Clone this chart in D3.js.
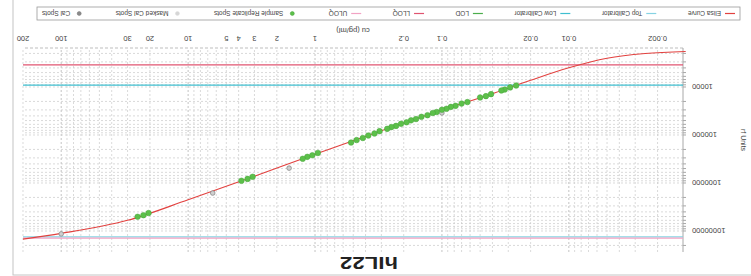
<!DOCTYPE html>
<html>
<head>
<meta charset="utf-8">
<script src="https://cdn.jsdelivr.net/npm/d3@7"></script>
<style>
  body { margin: 0; background: #fff; }
  text { font-family: "Liberation Sans", Arial, sans-serif; fill: #444; }
</style>
</head>
<body>
<div id="chart"></div>
<script>
// data
var chartTitle = "hIL22";
var xTitle = "cu (pg/ml)";
var yTitle = "rf Units";

var xTickLabels = [0.002, 0.01, 0.02, 0.1, 0.2, 1, 2, 3, 4, 5, 10, 20, 30, 100, 200];
var yTickLabels = [10000, 100000, 1000000, 10000000];

// fitted elisa curve
var curveConc   = [0.0012, 0.0025, 0.005, 0.01, 0.02, 0.04, 0.1, 0.3, 1, 3, 10, 30, 100, 200];
var curveSignal = [1820, 2000, 2510, 3980, 7240, 13800, 30200, 81300, 251000, 724000, 2240000, 6000000, 11200000, 14800000];

// sample replicate spots
var sampleConc = [0.026, 0.029, 0.032, 0.034, 0.041, 0.045, 0.05, 0.063, 0.07, 0.078, 0.085, 0.092, 0.1, 0.11, 0.118,
                  0.13, 0.145, 0.16, 0.175, 0.19, 0.21, 0.23, 0.25, 0.27, 0.31, 0.34, 0.38, 0.42, 0.47, 0.52,
                  0.95, 1.05, 1.15, 1.25, 3.1, 3.4, 3.8, 20.5, 22.5, 25];
var sampleSignal = [9300, 10200, 11300, 11800, 14100, 15500, 16500, 20600, 22100, 24700, 26000, 28400, 29800, 33200, 34800,
                    38700, 41800, 46500, 49500, 54400, 58300, 64600, 68400, 74500, 83200, 93000, 102500, 115500, 127500, 143500,
                    237000, 265000, 285000, 313000, 742000, 822000, 900000, 4230000, 4690000, 5060000];

// cal spots
var calConc   = [0.1, 1.6, 6.4, 100];
var calSignal = [34700, 490000, 1620000, 11500000];

// reference lines
var refNames  = ["Top Calibrator", "ULOQ", "Low Calibrator", "LLOQ"];
var refValues = [13300000, 14100000, 9100, 3470];

var legendNames = ["Elisa Curve", "Top Calibrator", "Low Calibrator", "LOD", "LLOQ", "ULOQ",
                   "Sample Replicate Spots", "Masked Cal Spots", "Cal Spots"];

var colors = {
  "Elisa Curve": "#e2413f",
  "Top Calibrator": "#86d3e3",
  "Low Calibrator": "#3fbfd0",
  "LOD": "#4cae4c",
  "LLOQ": "#e05470",
  "ULOQ": "#f2a3c4",
  "Sample Replicate Spots": "#5cc04a",
  "Masked Cal Spots": "#d6d6d6",
  "Cal Spots": "#8a8a8a"
};

var W = 751, H = 276;
var margin = {top: 24, right: 23, bottom: 48, left: 68};
var width = W - margin.left - margin.right;
var height = H - margin.top - margin.bottom;

var svg = d3.select("#chart").append("svg")
  .attr("width", W).attr("height", H);

// the reference is photographed upside down
var root = svg.append("g").attr("transform", "rotate(180," + (W / 2) + "," + (H / 2) + ")");

root.append("rect")
  .attr("x", -5).attr("y", 1).attr("width", 743).attr("height", 280)
  .attr("fill", "none").attr("stroke", "#c4c4c4");

root.append("text")
  .attr("x", 382).attr("y", 19)
  .attr("text-anchor", "middle")
  .attr("textLength", 58).attr("lengthAdjust", "spacingAndGlyphs")
  .style("font-size", "16px").style("font-weight", "bold").style("fill", "#222")
  .text(chartTitle);

var plot = root.append("g")
  .attr("transform", "translate(" + margin.left + "," + margin.top + ")");

var x = d3.scaleLog().domain([0.00126, 200]).range([0, width]);
var y = d3.scaleLog().domain([1540, 27400000]).range([height, 0]);

// grid
plot.append("g").selectAll("line").data(x.ticks())
  .enter().append("line")
    .attr("x1", d => x(d)).attr("x2", d => x(d))
    .attr("y1", 0).attr("y2", height)
    .attr("stroke", d => Math.abs(Math.log10(d) - Math.round(Math.log10(d))) < 1e-6 ? "#ababab" : "#cacaca")
    .attr("stroke-width", 0.7)
    .attr("stroke-dasharray", "2,2");

plot.append("g").selectAll("line").data(y.ticks())
  .enter().append("line")
    .attr("x1", 0).attr("x2", width)
    .attr("y1", d => y(d)).attr("y2", d => y(d))
    .attr("stroke", "#cacaca")
    .attr("stroke-width", 0.7)
    .attr("stroke-dasharray", "2,2");

plot.append("line")
  .attr("x1", 0).attr("x2", width).attr("y1", height).attr("y2", height)
  .attr("stroke", "#bdbdbd").attr("stroke-dasharray", "3,2");

// y axis
var yAxis = plot.append("g").attr("class", "y-axis");
yAxis.append("line")
  .attr("x1", 0).attr("x2", 0).attr("y1", 0).attr("y2", height)
  .attr("stroke", "#a8a8a8");
yAxis.selectAll(".tk").data(y.ticks())
  .enter().append("line")
    .attr("x1", -3).attr("x2", 0)
    .attr("y1", d => y(d)).attr("y2", d => y(d))
    .attr("stroke", "#a8a8a8");
yAxis.selectAll("text").data(yTickLabels)
  .enter().append("text")
    .attr("x", -9).attr("y", d => y(d)).attr("dy", "0.35em")
    .attr("text-anchor", "end")
    .style("font-size", "7.5px")
    .text(d => d);

root.append("text")
  .attr("transform", "translate(10," + (margin.top + 112) + ") rotate(-90)")
  .attr("text-anchor", "middle")
  .style("font-size", "7px")
  .text(yTitle);

// x tick labels
plot.append("g").selectAll("text").data(xTickLabels)
  .enter().append("text")
    .attr("x", d => x(d)).attr("y", height + 12)
    .attr("text-anchor", "middle")
    .style("font-size", "7.5px")
    .text(d => d);

root.append("text")
  .attr("x", 398).attr("y", 248)
  .attr("text-anchor", "middle")
  .style("font-size", "7.5px")
  .text(xTitle);

// reference lines
plot.append("g").selectAll("line").data(refNames)
  .enter().append("line")
    .attr("x1", 0).attr("x2", width)
    .attr("y1", (d, i) => y(refValues[i])).attr("y2", (d, i) => y(refValues[i]))
    .attr("stroke", d => colors[d])
    .attr("stroke-width", 1.2);

// elisa curve
var curvePts = curveConc.map((c, i) => [c, curveSignal[i]]);
plot.append("path")
  .datum(curvePts)
  .attr("fill", "none")
  .attr("stroke", colors["Elisa Curve"])
  .attr("stroke-width", 1.1)
  .attr("d", d3.line().x(d => x(d[0])).y(d => y(d[1])).curve(d3.curveMonotoneX));

// cal spots
plot.append("g").selectAll("circle").data(calConc)
  .enter().append("circle")
    .attr("cx", d => x(d))
    .attr("cy", (d, i) => y(calSignal[i]))
    .attr("r", 2.3)
    .attr("fill", "#cfcfcf")
    .attr("stroke", colors["Cal Spots"])
    .attr("stroke-width", 0.8);

// sample spots
plot.append("g").selectAll("circle").data(sampleConc)
  .enter().append("circle")
    .attr("cx", d => x(d))
    .attr("cy", (d, i) => y(sampleSignal[i]))
    .attr("r", 2.8)
    .attr("fill", colors["Sample Replicate Spots"])
    .attr("stroke", "#46a53a")
    .attr("stroke-width", 0.5);

// legend
var lg = root.append("g");
var lgX0 = 11, lgX1 = 714, lgY = 256, lgH = 13;
lg.append("rect")
  .attr("x", lgX0).attr("y", lgY).attr("width", lgX1 - lgX0).attr("height", lgH)
  .attr("fill", "#fff").attr("stroke", "#9a9a9a").attr("stroke-width", 0.8);

var items = lg.selectAll(".item").data(legendNames).enter().append("g").attr("class", "item");
items.append("text")
  .attr("y", lgY + lgH / 2).attr("dy", "0.35em")
  .style("font-size", "6.5px")
  .text(d => d);

var symW = 10, gapIn = 4;
var widths = [];
items.select("text").each(function() { widths.push(this.getComputedTextLength()); });
var total = d3.sum(widths) + legendNames.length * (symW + gapIn);
var gap = (lgX1 - lgX0 - 10 - total) / (legendNames.length - 1);
var cx = lgX0 + 5;
items.each(function(d, i) {
  var g = d3.select(this);
  if (d.indexOf("Spots") >= 0) {
    g.append("circle")
      .attr("cx", cx + symW / 2).attr("cy", lgY + lgH / 2).attr("r", 2)
      .attr("fill", colors[d])
      .attr("stroke", d == "Cal Spots" ? "#777" : (d == "Masked Cal Spots" ? "#ddd" : "#46a53a"))
      .attr("stroke-width", 0.5);
  } else {
    g.append("line")
      .attr("x1", cx).attr("x2", cx + symW)
      .attr("y1", lgY + lgH / 2).attr("y2", lgY + lgH / 2)
      .attr("stroke", colors[d]).attr("stroke-width", 1.2);
  }
  g.select("text").attr("x", cx + symW + gapIn);
  cx += symW + gapIn + widths[i] + gap;
});
</script>
</body>
</html>
